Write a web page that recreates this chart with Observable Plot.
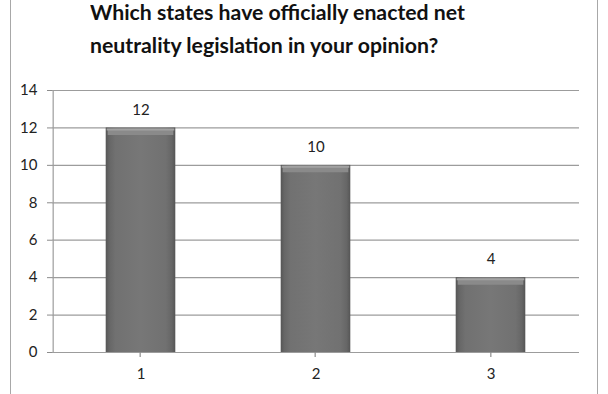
<!DOCTYPE html>
<html>
<head>
<meta charset="utf-8">
<script src="https://cdn.jsdelivr.net/npm/d3@7"></script>
<script src="https://cdn.jsdelivr.net/npm/@observablehq/plot@0.6"></script>
<style>
  html, body { margin: 0; padding: 0; background: #fff; }
  #wrap { position: relative; width: 608px; height: 394px; overflow: hidden; }
  #frame { position: absolute; left: 10px; top: 0; width: 586px; height: 394px;
           border-left: 1.5px solid #a8a8a8; border-right: 1.5px solid #a8a8a8; pointer-events: none; }
  #title { position: absolute; left: 90px; top: -4px; font-family: Lato, "Open Sans", sans-serif;
           font-weight: bold; font-size: 20px; line-height: 33px; color: #111; white-space: nowrap;
           transform-origin: 0 0; }
  #title div { display: block; }
  #title span { display: inline-block; }
  #chart { position: absolute; left: 0; top: 62px; }
</style>
</head>
<body>
<div id="wrap">
  <div id="title"><div><span id="t1">Which states have officially enacted net</span></div><div><span>neutrality legislation in your opinion?</span></div></div>
  <div id="chart"></div>
  <div id="frame"></div>
</div>
<script>
const categories = ["1", "2", "3"];
const values = [12, 10, 4];
const yTicks = [0, 2, 4, 6, 8, 10, 12, 14];
const titleLines = ["Which states have officially enacted net", "neutrality legislation in your opinion?"];

const data = categories.map((c, i) => ({category: c, value: values[i]}));

const W = 608, H = 332;
const mL = 52, mR = 29, mT = 28, mB = 42;
const step = (W - mL - mR) / categories.length;
const inset = step * 0.3;

const plot = Plot.plot({
  width: W,
  height: H,
  marginLeft: mL,
  marginRight: mR,
  marginTop: mT,
  marginBottom: mB,
  style: {fontFamily: "Lato, 'Open Sans', sans-serif", fontSize: "15px", color: "#222", background: "transparent"},
  x: {domain: categories, padding: 0, label: null},
  y: {domain: [0, 14], ticks: yTicks, label: null},
  marks: [
    Plot.gridY(yTicks, {stroke: "#9c9c9c", strokeOpacity: 1, strokeWidth: 1.2}),
    Plot.ruleX([categories[0]], {x: d => d, dx: -step / 2, stroke: "#9c9c9c", strokeWidth: 1.2}),
    Plot.axisY(yTicks, {tickSize: 5, tickPadding: 10, stroke: "#8c8c8c", fill: "#222", fontSize: 15}),
    Plot.axisX({tickSize: 0, tickPadding: 16, fill: "#222", fontSize: 15}),
    Plot.barY(data, {x: "category", y: "value", fill: "url(#barGrad)", insetLeft: inset, insetRight: inset}),
    Plot.tickY(data, {x: "category", y: "value", dy: 4, strokeWidth: 6, stroke: "#8a8a8a", insetLeft: inset + 2, insetRight: inset + 2}),
    Plot.tickY(data, {x: "category", y: "value", dy: 1.5, strokeWidth: 2, stroke: "#a2a2a2", insetLeft: inset + 1, insetRight: inset + 1}),
    Plot.ruleY([0], {stroke: "#9c9c9c", strokeWidth: 1.2}),
    Plot.text(data, {x: "category", y: "value", text: d => String(d.value), dy: -18, fill: "#222", fontSize: 15})
  ]
});

const svg = d3.select(plot);
const xs = plot.scale("x");
const ys = plot.scale("y");
const defs = svg.insert("defs", ":first-child");
const g1 = defs.append("linearGradient").attr("id", "barGrad").attr("x1", 0).attr("x2", 1).attr("y1", 0).attr("y2", 0);
[[0, "#555555"], [0.05, "#666666"], [0.14, "#717171"], [0.5, "#777777"], [0.86, "#717171"], [0.95, "#666666"], [1, "#555555"]]
  .forEach(([o, c]) => g1.append("stop").attr("offset", o).attr("stop-color", c));
const bounds = categories.map(c => xs.apply(c) - step / 2).concat([xs.apply(categories[categories.length - 1]) + step / 2]);
const y0 = ys.apply(0);
svg.append("g").selectAll("line").data(bounds).join("line")
  .attr("x1", d => d).attr("x2", d => d).attr("y1", y0).attr("y2", y0 + 5)
  .attr("stroke", "#8c8c8c").attr("stroke-width", 1.2);

document.getElementById("chart").appendChild(plot);

const t1 = document.getElementById("t1");
const w = t1.getBoundingClientRect().width;
document.getElementById("title").style.transform = `scaleX(${375 / w})`;
</script>
</body>
</html>
